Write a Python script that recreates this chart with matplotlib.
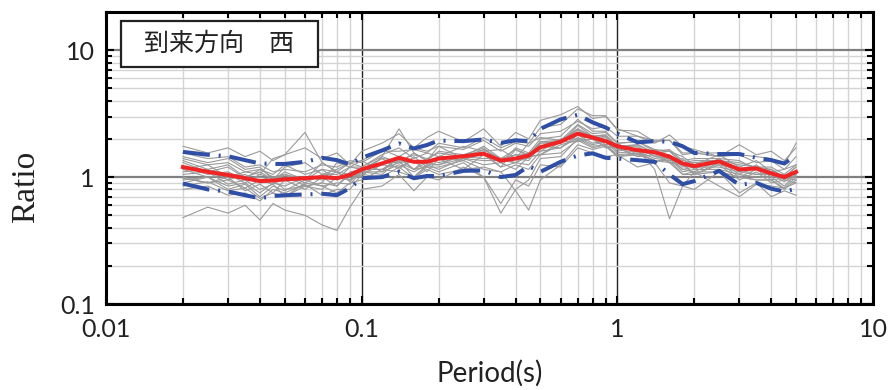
import matplotlib
matplotlib.use("Agg")
import matplotlib.pyplot as plt
from matplotlib.patches import Rectangle
from matplotlib.ticker import LogLocator, FixedLocator, FixedFormatter, NullFormatter

# === Data ===
periods = [0.02, 0.025, 0.03, 0.035, 0.04, 0.045, 0.05, 0.06, 0.07, 0.08, 0.09,
           0.1, 0.12, 0.14, 0.16, 0.18, 0.2, 0.25, 0.3, 0.35, 0.4, 0.45, 0.5,
           0.6, 0.7, 0.8, 0.9, 1.0, 1.2, 1.4, 1.6, 1.8, 2.0, 2.5, 3.0, 3.5,
           4.0, 4.5, 5.0]

mean_ratio = [1.20, 1.10, 1.04, 0.98, 0.93, 0.94, 0.96, 0.98, 1.00, 0.98, 1.04,
              1.15, 1.28, 1.42, 1.32, 1.32, 1.40, 1.46, 1.53, 1.35, 1.40, 1.48, 1.72,
              1.90, 2.20, 2.05, 1.92, 1.75, 1.63, 1.57, 1.45, 1.28, 1.22, 1.33, 1.15, 1.17,
              1.07, 1.00, 1.10]

upper_ratio = [1.58, 1.50, 1.46, 1.36, 1.28, 1.27, 1.27, 1.32, 1.42, 1.36, 1.26,
               1.42, 1.62, 1.84, 1.68, 1.79, 1.94, 1.92, 1.98, 1.86, 1.95, 1.92, 2.40,
               2.85, 3.10, 2.70, 2.46, 2.20, 1.88, 1.92, 1.90, 1.75, 1.55, 1.52, 1.52, 1.42,
               1.36, 1.28, 1.49]

lower_ratio = [0.89, 0.80, 0.77, 0.72, 0.68, 0.71, 0.72, 0.73, 0.74, 0.72, 0.82,
               0.98, 1.00, 1.10, 0.98, 1.02, 1.02, 1.12, 1.13, 1.00, 1.04, 1.22, 1.10,
               1.32, 1.48, 1.54, 1.42, 1.40, 1.36, 1.32, 1.05, 0.88, 0.93, 1.12, 0.87, 0.90,
               0.81, 0.77, 0.81]

# individual records (gray)
rec01 = [1.75, 1.55, 1.70, 1.45, 1.60, 1.35, 1.50, 1.70, 1.40, 1.55, 1.25, 1.60, 1.85, 2.20, 1.70, 2.05, 2.30, 1.90, 2.40, 1.75, 2.25, 2.00, 2.80, 3.10, 3.60, 2.90, 3.00, 2.40, 2.10, 1.85, 2.15, 1.75, 1.65, 1.45, 1.80, 1.50, 1.60, 1.35, 1.70]
rec02 = [0.48, 0.58, 0.52, 0.60, 0.46, 0.62, 0.55, 0.50, 0.42, 0.38, 0.58, 0.80, 0.85, 1.05, 0.78, 1.00, 0.95, 1.20, 1.00, 0.62, 0.95, 0.85, 1.25, 1.20, 1.70, 1.55, 1.45, 1.50, 1.20, 1.30, 0.90, 0.85, 0.80, 1.10, 0.75, 0.90, 0.70, 0.78, 0.72]
rec03 = [1.35, 1.15, 1.25, 1.00, 1.10, 0.95, 1.20, 1.30, 1.05, 1.15, 1.30, 1.20, 1.50, 1.70, 1.40, 1.55, 1.45, 1.75, 1.60, 1.65, 1.40, 1.85, 2.05, 1.95, 2.60, 2.20, 2.25, 1.85, 1.90, 1.65, 1.60, 1.45, 1.25, 1.50, 1.20, 1.35, 1.10, 1.15, 1.25]
rec04 = [1.00, 0.90, 1.00, 0.78, 0.88, 0.75, 0.95, 0.80, 1.00, 1.10, 0.95, 1.05, 1.25, 1.20, 1.35, 1.10, 1.40, 1.15, 1.50, 1.20, 1.30, 1.25, 1.60, 1.70, 2.05, 1.80, 1.90, 1.55, 1.60, 1.40, 1.45, 1.15, 1.20, 1.20, 1.10, 1.05, 1.05, 0.92, 1.05]
rec05 = [1.45, 1.30, 1.40, 1.15, 1.20, 0.95, 1.05, 0.95, 1.30, 1.10, 1.05, 1.00, 1.45, 2.40, 1.55, 1.35, 1.75, 1.40, 1.55, 1.20, 1.65, 1.50, 1.90, 1.85, 2.55, 2.10, 2.15, 1.75, 1.80, 1.55, 1.60, 1.30, 1.30, 1.35, 1.25, 1.20, 1.15, 1.00, 1.20]
rec06 = [1.10, 1.15, 0.95, 1.05, 0.90, 0.95, 0.80, 0.85, 0.90, 1.30, 1.20, 1.35, 1.10, 1.45, 1.15, 1.30, 1.25, 1.50, 1.70, 1.30, 1.40, 1.35, 1.75, 1.70, 2.15, 1.85, 1.95, 1.60, 1.70, 1.45, 1.50, 1.20, 1.25, 1.25, 1.15, 1.05, 1.10, 0.95, 1.10]
rec07 = [1.05, 1.10, 0.88, 0.95, 0.80, 0.88, 0.70, 0.90, 0.85, 0.75, 0.90, 0.95, 1.15, 1.10, 1.00, 1.20, 1.10, 1.30, 1.00, 0.52, 0.80, 0.95, 1.40, 1.45, 2.00, 1.75, 1.80, 1.45, 1.55, 1.35, 1.40, 1.10, 1.15, 1.15, 1.05, 1.00, 1.00, 0.85, 1.05]
rec08 = [1.30, 1.10, 1.20, 0.98, 1.15, 1.05, 1.25, 1.05, 1.15, 0.95, 1.20, 1.15, 1.40, 1.35, 1.50, 1.40, 1.55, 1.45, 1.75, 1.40, 1.65, 1.45, 1.90, 1.90, 2.40, 2.05, 2.10, 1.70, 1.80, 1.55, 1.60, 1.30, 1.35, 1.35, 1.30, 1.20, 1.20, 1.05, 1.25]
rec09 = [1.15, 1.25, 1.00, 1.10, 1.05, 1.40, 1.50, 2.25, 1.30, 1.10, 0.92, 1.15, 1.15, 1.40, 1.15, 1.40, 1.30, 1.45, 1.40, 1.40, 1.30, 1.55, 1.60, 2.00, 2.00, 2.10, 1.80, 1.85, 1.50, 1.65, 1.35, 1.40, 1.15, 1.40, 1.10, 1.20, 1.00, 1.05, 1.05]
rec10 = [0.90, 1.00, 0.80, 0.88, 0.70, 0.85, 0.78, 0.95, 0.85, 0.90, 0.88, 1.10, 1.05, 1.35, 1.00, 1.25, 1.15, 1.40, 1.25, 1.30, 1.15, 1.45, 1.50, 1.90, 1.90, 2.00, 1.70, 1.75, 1.45, 1.60, 1.30, 1.30, 1.05, 1.30, 1.00, 1.15, 0.95, 0.98, 0.95]
rec11 = [0.98, 0.90, 0.95, 0.82, 0.95, 0.88, 1.05, 0.85, 0.90, 0.85, 1.10, 1.15, 1.40, 1.15, 1.45, 1.20, 1.45, 1.35, 1.65, 1.35, 1.50, 1.40, 1.85, 1.85, 2.35, 2.00, 2.05, 1.65, 1.65, 1.15, 0.47, 0.85, 1.10, 1.35, 1.05, 1.25, 1.00, 1.05, 1.00]
rec12 = [1.40, 1.25, 1.30, 1.10, 1.15, 1.00, 1.05, 0.95, 1.15, 1.10, 1.30, 1.35, 1.65, 1.45, 1.70, 1.60, 1.75, 1.65, 1.95, 1.60, 1.85, 1.75, 2.20, 2.30, 2.75, 2.40, 2.50, 2.10, 2.10, 1.95, 1.95, 1.55, 1.55, 1.55, 1.50, 1.45, 1.40, 1.25, 1.85]
rec13 = [0.80, 0.85, 0.72, 0.75, 0.65, 0.80, 0.75, 0.88, 0.72, 0.80, 0.80, 1.05, 1.00, 1.20, 0.98, 1.15, 1.05, 1.15, 1.20, 1.10, 1.25, 1.15, 1.50, 1.55, 1.95, 1.70, 1.80, 1.50, 1.55, 1.35, 1.35, 1.05, 1.05, 1.10, 1.00, 0.95, 0.95, 0.80, 0.95]
rec14 = [1.15, 1.00, 1.05, 0.90, 1.05, 0.98, 1.05, 0.90, 1.05, 1.05, 1.20, 1.20, 1.45, 1.30, 1.55, 1.35, 1.60, 1.50, 1.55, 1.30, 1.70, 1.55, 2.00, 2.10, 2.85, 2.30, 2.30, 1.85, 1.90, 1.60, 1.65, 1.35, 1.40, 1.40, 1.35, 1.15, 1.15, 1.00, 1.20]
rec15 = [0.95, 1.00, 0.85, 0.90, 0.75, 0.90, 0.85, 1.00, 0.95, 1.00, 0.95, 1.15, 1.15, 1.30, 1.15, 1.20, 1.20, 1.35, 1.15, 1.10, 0.78, 0.55, 0.95, 1.25, 1.80, 1.65, 1.75, 1.45, 1.50, 1.35, 1.30, 1.05, 1.10, 1.10, 1.00, 0.95, 0.95, 0.82, 1.00]
rec16 = [1.20, 1.05, 1.10, 0.95, 1.00, 0.95, 1.10, 0.95, 1.00, 0.85, 1.05, 1.10, 1.30, 1.30, 1.35, 1.30, 1.45, 1.45, 1.65, 1.40, 1.50, 1.50, 1.90, 1.95, 2.40, 2.10, 2.15, 1.75, 1.75, 1.45, 1.40, 1.15, 1.10, 0.85, 0.70, 0.88, 0.85, 0.82, 0.90]
rec17 = [1.55, 1.40, 1.45, 1.20, 1.25, 1.10, 1.15, 1.10, 1.25, 1.20, 1.35, 1.30, 1.60, 1.60, 1.65, 1.55, 1.85, 1.70, 2.05, 1.70, 1.90, 1.85, 2.45, 2.60, 3.45, 3.05, 3.05, 2.35, 2.30, 1.90, 1.95, 1.50, 1.55, 1.45, 1.50, 1.30, 1.35, 1.15, 1.45]
rec18 = [0.85, 0.92, 0.78, 0.82, 0.68, 0.75, 0.70, 0.85, 0.80, 1.00, 0.95, 1.10, 1.10, 1.25, 1.10, 1.25, 1.25, 1.40, 1.35, 1.35, 1.30, 1.45, 1.50, 1.80, 1.95, 2.00, 1.75, 1.70, 1.45, 1.50, 1.30, 1.25, 1.05, 1.25, 0.95, 1.10, 0.90, 0.95, 0.90]
records = [rec01, rec02, rec03, rec04, rec05, rec06, rec07, rec08, rec09,
           rec10, rec11, rec12, rec13, rec14, rec15, rec16, rec17, rec18]

x_ticks = [0.01, 0.1, 1, 10]
x_tick_labels = ["0.01", "0.1", "1", "10"]
y_ticks = [0.1, 1, 10]
y_tick_labels = ["0.1", "1", "10"]
title_text = "到来方向\u3000西"

# === Figure ===
fig = plt.figure(figsize=(8.88, 3.9), dpi=100)
ax = fig.add_axes([0.1194, 0.2205, 0.8637, 0.7487])
ax.set_xscale("log")
ax.set_yscale("log")
ax.set_xlim(0.01, 10)
ax.set_ylim(0.1, 20)

# grid
ax.xaxis.set_minor_locator(LogLocator(base=10, subs=range(2, 10)))
ax.yaxis.set_minor_locator(LogLocator(base=10, subs=range(2, 10)))
ax.grid(which="minor", color="#d4d4d4", linewidth=1.0)
ax.grid(which="major", axis="x", color="#222222", linewidth=1.0)
ax.grid(which="major", axis="y", color="#808080", linewidth=1.6)
ax.set_axisbelow(True)

for rec in records:
    ax.plot(periods, rec, color="#9a9a9a", linewidth=0.8, zorder=2)

blue_ls = (0, (6.7, 2.2, 0.5, 2.2))
ax.plot(periods, upper_ratio, color="#2f4fa6", linewidth=2.9, linestyle=blue_ls, zorder=3)
ax.plot(periods, lower_ratio, color="#2f4fa6", linewidth=2.9, linestyle=blue_ls, zorder=3)
ax.plot(periods, mean_ratio, color="#f02424", linewidth=2.9, zorder=4)

# ticks
ax.xaxis.set_major_locator(FixedLocator(x_ticks))
ax.xaxis.set_major_formatter(FixedFormatter(x_tick_labels))
ax.yaxis.set_major_locator(FixedLocator(y_ticks))
ax.yaxis.set_major_formatter(FixedFormatter(y_tick_labels))
ax.xaxis.set_minor_formatter(NullFormatter())
ax.yaxis.set_minor_formatter(NullFormatter())
ax.tick_params(which="both", direction="in", top=True, right=True, width=1.5, color="black")
ax.tick_params(which="major", length=6)
ax.tick_params(which="minor", length=4.5)
ax.tick_params(axis="x", which="major", pad=10)
ax.tick_params(axis="y", which="major", pad=8)
for lab in ax.get_xticklabels() + ax.get_yticklabels():
    lab.set_fontfamily("Lato")
    lab.set_fontsize(18)
    lab.set_color("#222222")

for sp in ax.spines.values():
    sp.set_linewidth(2.2)
    sp.set_color("black")

ax.set_xlabel("Period(s)", fontfamily="Lato", fontsize=20, color="#222222", labelpad=14)
ax.set_ylabel("Ratio", fontfamily="Liberation Serif", fontsize=24, color="#222222")
ax.yaxis.set_label_coords(-0.085, 0.40)

# title box
ax.add_patch(Rectangle((0.0196, 0.8116), 0.2568, 0.1574, transform=ax.transAxes,
                       facecolor="white", edgecolor="#222222", linewidth=1.6, zorder=6))
ax.text(0.147, 0.890, title_text, transform=ax.transAxes, ha="center", va="center",
        fontsize=18, family=["Noto Sans CJK JP", "DejaVu Sans"], color="#222222", zorder=7)

fig.savefig("out.png", dpi=100)
